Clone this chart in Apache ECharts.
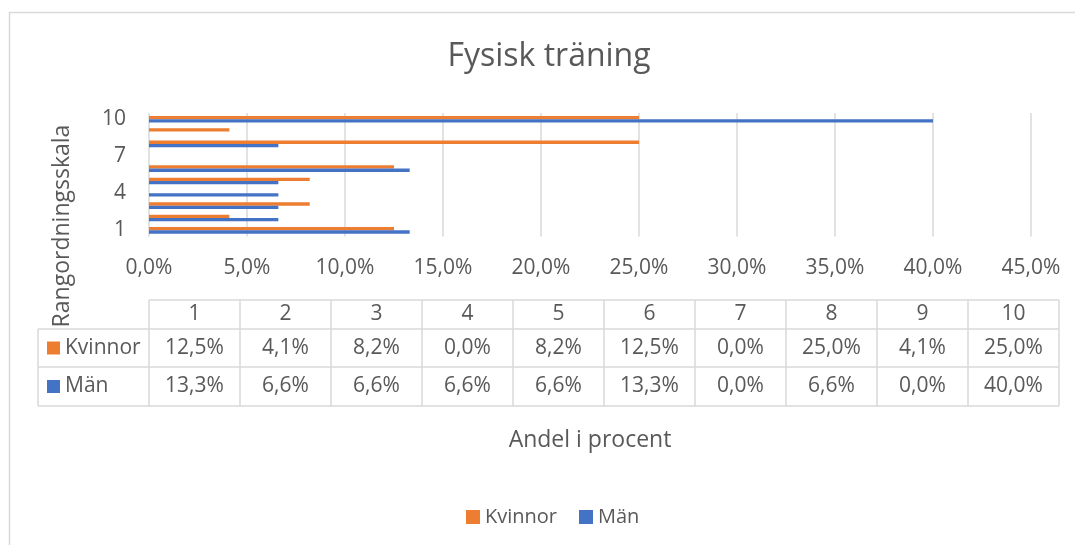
<!DOCTYPE html>
<html><head><meta charset="utf-8">
<script src="https://cdn.jsdelivr.net/npm/echarts@6/dist/echarts.min.js"></script>
<style>html,body{margin:0;padding:0;background:#fff}#c{width:1075px;height:545px}</style>
</head><body><div id="c"></div>
<script>
var categories = ['1','2','3','4','5','6','7','8','9','10'];
var seriesNames = ['Kvinnor','Män'];
var kvinnor = [12.5,4.1,8.2,0.0,8.2,12.5,0.0,25.0,4.1,25.0];
var man = [13.3,6.6,6.6,6.6,6.6,13.3,0.0,6.6,0.0,40.0];
var xTicks = {min:0, max:45, interval:5};
var titleText = 'Fysisk träning';
var xTitle = 'Andel i procent';
var yTitle = 'Rangordningsskala';

var colors = ['#ED7D31','#4472C4'];
var font = 'Open Sans';
var txt = '#595959';
var lineC = '#d9d9d9';
function fmt(v){ return v.toFixed(1).replace('.',',') + '%'; }

// table layout
var tL = 149, colW = 91, legL = 38;
var rowsY = [300, 329, 367, 406];
var g = [];
g.push({type:'rect', shape:{x:9.5,y:12.5,width:1200,height:700}, style:{fill:'none',stroke:lineC,lineWidth:1.5}, silent:true});
g.push({type:'text', rotation:Math.PI/2, x:62, y:226, style:{text:yTitle, font:'23px "'+font+'"', fill:txt, align:'center', verticalAlign:'middle'}});
g.push({type:'text', x:549, y:57, style:{text:titleText, font:'32px "'+font+'"', fill:txt, align:'center', verticalAlign:'middle'}});
var tR = tL + colW*categories.length;
g.push({type:'line', shape:{x1:tL,y1:rowsY[0],x2:tR,y2:rowsY[0]}, style:{stroke:lineC,lineWidth:1.5}});
for (var r=1;r<rowsY.length;r++){
  g.push({type:'line', shape:{x1:legL,y1:rowsY[r],x2:tR,y2:rowsY[r]}, style:{stroke:lineC,lineWidth:1.5}});
}
g.push({type:'line', shape:{x1:legL,y1:rowsY[1],x2:legL,y2:rowsY[3]}, style:{stroke:lineC,lineWidth:1.5}});
for (var c=0;c<=categories.length;c++){
  var x = tL + c*colW;
  g.push({type:'line', shape:{x1:x,y1:rowsY[0],x2:x,y2:rowsY[3]}, style:{stroke:lineC,lineWidth:1.5}});
}
var rowsData = [kvinnor, man];
for (var c=0;c<categories.length;c++){
  var cx = tL + c*colW + colW/2;
  g.push({type:'text', x:cx, y:(rowsY[0]+rowsY[1])/2, style:{text:categories[c], font:'21px "'+font+'"', fill:txt, align:'center', verticalAlign:'middle'}});
  for (var s=0;s<2;s++){
    g.push({type:'text', x:cx, y:(rowsY[s+1]+rowsY[s+2])/2, style:{text:fmt(rowsData[s][c]), font:'21px "'+font+'"', fill:txt, align:'center', verticalAlign:'middle'}});
  }
}
for (var s=0;s<2;s++){
  var cy = (rowsY[s+1]+rowsY[s+2])/2;
  g.push({type:'rect', shape:{x:47,y:cy-6.5,width:13,height:13}, style:{fill:colors[s]}});
  g.push({type:'text', x:65, y:cy, style:{text:seriesNames[s], font:'21px "'+font+'"', fill:txt, align:'left', verticalAlign:'middle'}});
}

var chart = echarts.init(document.getElementById('c'), null, {renderer:'canvas'});
chart.setOption({
  animation:false,
  color: colors,
  legend:{data:seriesNames, left:461, top:502, icon:'rect', itemWidth:14, itemHeight:14, itemGap:22,
    textStyle:{fontFamily:font, fontSize:20, color:txt}},
  grid:{left:149, right:1075-1031, top:113, bottom:545-236.5, containLabel:false},
  xAxis:{type:'value', min:xTicks.min, max:xTicks.max, interval:xTicks.interval,
    name:xTitle, nameLocation:'middle', nameGap:192, nameTextStyle:{fontFamily:font, fontSize:23, color:txt},
    axisLine:{show:false}, axisTick:{show:false},
    splitLine:{lineStyle:{color:lineC, width:1.5}},
    axisLabel:{formatter:fmt, margin:21, fontFamily:font, fontSize:21, color:txt}},
  yAxis:{type:'category', data:categories, axisLine:{show:false}, axisTick:{show:false},
    axisLabel:{interval:2, margin:23, fontFamily:font, fontSize:21, color:txt}},
  series:[
    {name:seriesNames[0], type:'bar', data:kvinnor, barWidth:3.3, barGap:'0%'},
    {name:seriesNames[1], type:'bar', data:man, barWidth:3.3, barGap:'0%'}
  ],
  graphic:g
});
</script></body></html>
